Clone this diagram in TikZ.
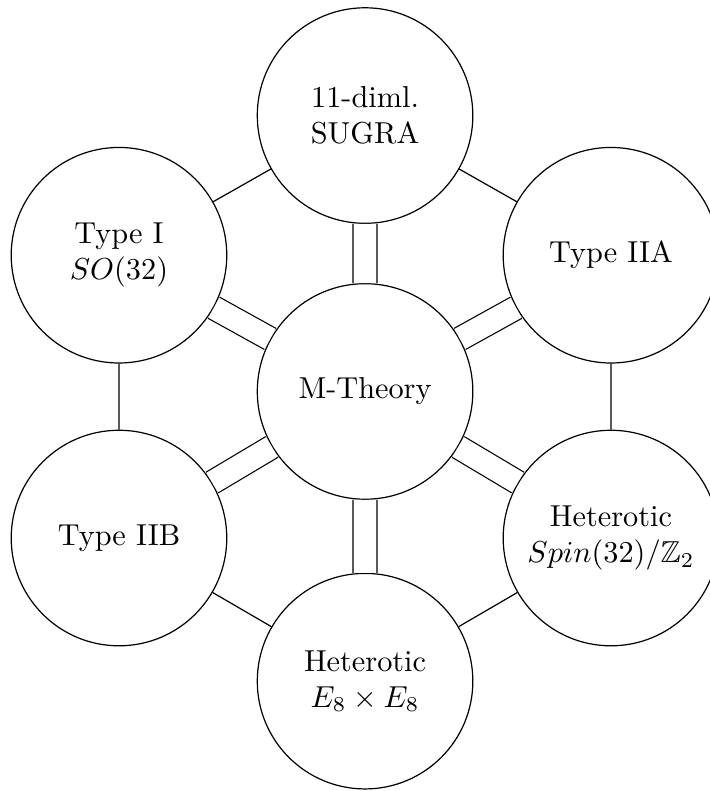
\documentclass[tikz,border=0pt]{standalone}
\usepackage{amssymb}
\begin{document}
\begin{tikzpicture}[scale=0.2]
\tikzstyle{every node}+=[inner sep=0pt]
\tikzstyle{theory}=[draw=black, circle, minimum size=2.5cm, align=center]
\tikzstyle{dual}=[black]
\tikzstyle{limit}=[black, double, double distance=7.5pt]

\useasboundingbox (0,0) rectangle (41.17,-45.87);
\node [theory] (M) at (21.17,-22.7) {M-Theory};
\node [theory] (sugra) at (21.17,-6.7) {11-diml.\\SUGRA};
\node [theory] (IIA) at (35.43,-14.8) {Type IIA};
\node [theory] (het32) at (35.43,-31.2) {Heterotic\\$Spin(32)/\mathbb{Z}_2$};
\node [theory] (hetE8) at (21.17,-39.5) {Heterotic\\$E_8\times E_8$};
\node [theory] (IIB) at (6.9,-31.2) {Type IIB};
\node [theory] (typeI) at (6.9,-14.8) {Type I\\$SO(32)$};
\draw [dual] (sugra) -- (IIA);
\draw [dual] (IIA) -- (het32);
\draw [dual] (het32) -- (hetE8);
\draw [dual] (hetE8) -- (IIB);
\draw [dual] (IIB) -- (typeI);
\draw [dual] (typeI) -- (sugra);
\draw [limit] (M) -- (sugra);
\draw [limit] (M) -- (IIA);
\draw [limit] (M) -- (het32);
\draw [limit] (M) -- (hetE8);
\draw [limit] (M) -- (IIB);
\draw [limit] (M) -- (typeI);
\end{tikzpicture}
\end{document}
